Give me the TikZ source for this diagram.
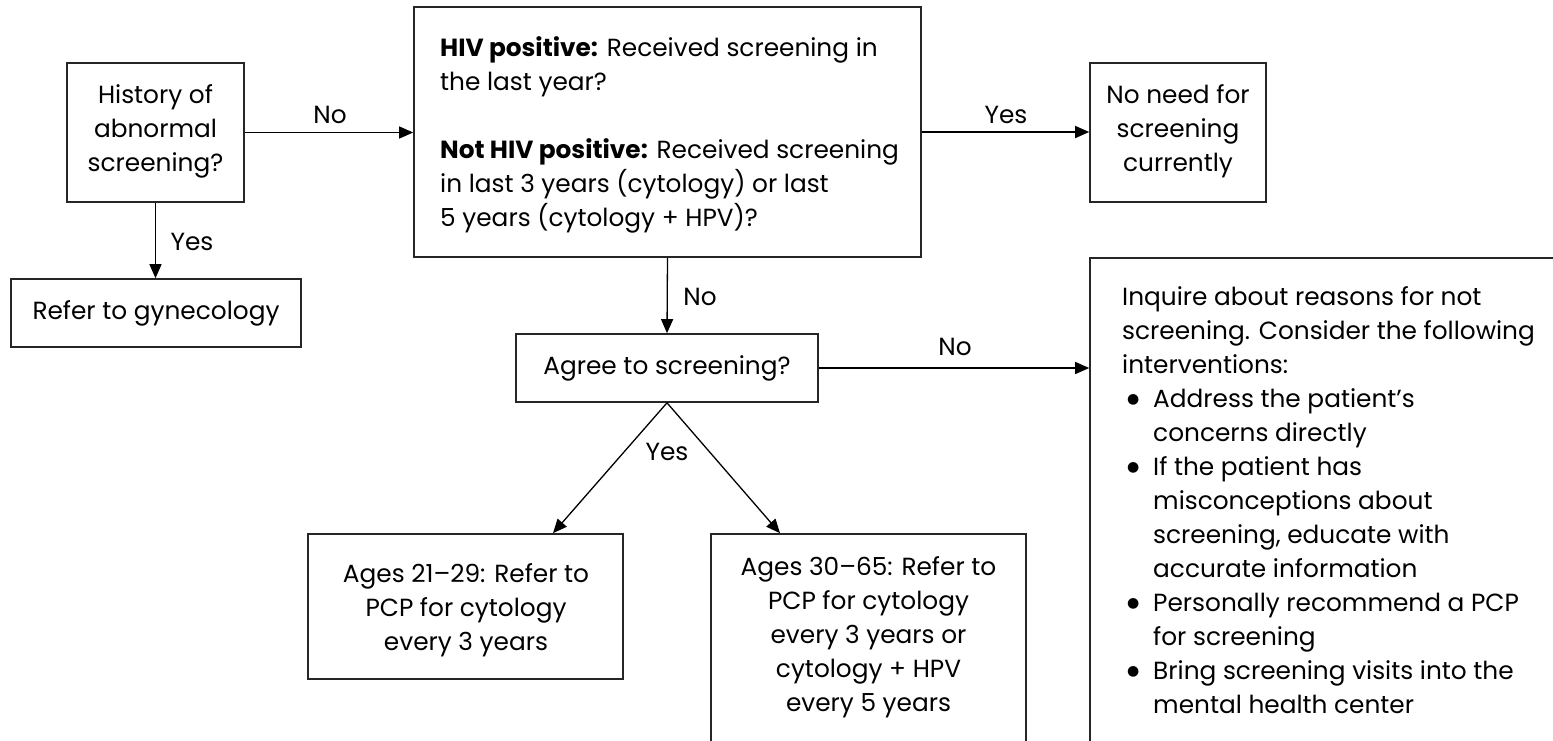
\documentclass[tikz,border=0pt]{standalone}
\usepackage{fontspec}
\setmainfont{Poppins}
\newfontfamily\dotfont{DejaVu Sans}
\usetikzlibrary{arrows.meta}
% bullet and hanging indent for the list of interventions
\newcommand{\tipbullet}{\makebox[31pt][l]{\hspace*{5pt}\raisebox{3.5pt}{\dotfont\fontsize{14}{34}\selectfont ●}}}
\newcommand{\tipindent}{\hspace*{31pt}}
\begin{document}
\begin{tikzpicture}[x=1pt,y=-1pt,
  box/.style={draw=black!85, line width=1.6pt, rectangle, inner sep=0pt},
  txt/.style={font=\fontsize{24.8}{34}\selectfont, inner sep=0pt, align=center},
  lbl/.style={font=\fontsize{24.8}{34}\selectfont, inner sep=0pt},
  conn/.style={line width=1.3pt, -{Triangle[length=14pt,width=12pt]}},
]
\useasboundingbox (0,0) rectangle (1553,740);
\fill[white] (0,0) rectangle (1553,740);
\clip (0,0) rectangle (1553,740);

% boxes
\node[box, minimum width=177pt, minimum height=139pt] (hist) at (155.5,132.5) {};
\node[box, minimum width=290pt, minimum height=68pt] (gyn) at (156,313) {};
\node[box, minimum width=507pt, minimum height=250pt] (recv) at (667.5,132) {};
\node[box, minimum width=176pt, minimum height=139pt] (noneed) at (1178,132.5) {};
\node[box, minimum width=302pt, minimum height=68pt] (agree) at (667,368) {};
\node[box, minimum width=520pt, minimum height=560pt] (tips) at (1350,538) {};
\node[box, minimum width=315pt, minimum height=145pt] (young) at (465.5,606.5) {};
\node[box, minimum width=315pt, minimum height=266pt] (old) at (868.5,667) {};

% texts
\node[txt] (histtxt) at (155.5,131.5) {History of\\abnormal\\screening?};
\node[txt] (gyntxt) at (156,313) {Refer to gynecology};
\node[txt, align=left, anchor=west] (recvtxt) at (440,135)
  {\textbf{HIV positive:} Received screening in\\
   the last year?\\[34pt]
   \textbf{Not HIV positive:} Received screening\\
   in last 3 years (cytology) or last\\
   5 years (cytology + HPV)?};
\node[txt] (noneedtxt) at (1178,131.5) {No need for\\screening\\currently};
\node[txt] (agreetxt) at (667,368) {Agree to screening?};
\node[txt, align=left, anchor=north west] (tipstxt) at (1122,286)
  {Inquire about reasons for not\\
   screening. Consider the following\\
   interventions:\\
   \tipbullet Address the patient’s\\
   \tipindent concerns directly\\
   \tipbullet If the patient has\\
   \tipindent misconceptions about\\
   \tipindent screening, educate with\\
   \tipindent accurate information\\
   \tipbullet Personally recommend a PCP\\
   \tipindent for screening\\
   \tipbullet Bring screening visits into the\\
   \tipindent mental health center};
\node[txt] (youngtxt) at (466,610) {Ages 21–29: Refer to\\PCP for cytology\\every 3 years};
\node[txt] (oldtxt) at (868.5,637) {Ages 30–65: Refer to\\PCP for cytology\\every 3 years or\\cytology + HPV\\every 5 years};

% connectors
\draw[conn] (hist.east) -- (hist.east -| recv.west);
\draw[conn] (hist.south) -- (hist.south |- gyn.north);
\draw[conn] (recv.east) -- (recv.east -| noneed.west);
\draw[conn] (recv.south) -- (agree.north);
\draw[conn] (agree.east) -- (agree.east -| tips.west);
\draw[conn] (agree.south) -- ([xshift=87.5pt]young.north);
\draw[conn] (agree.south) -- ([xshift=-88.5pt]old.north);

% connector labels
\node[lbl] (lno1) at (330,115) {No};
\node[lbl] (lyes1) at (192,242) {Yes};
\node[lbl] (lyes2) at (1006,115) {Yes};
\node[lbl] (lno2) at (700,297) {No};
\node[lbl] (lno3) at (955,347) {No};
\node[lbl] (lyes3) at (667,452) {Yes};
\end{tikzpicture}
\end{document}
